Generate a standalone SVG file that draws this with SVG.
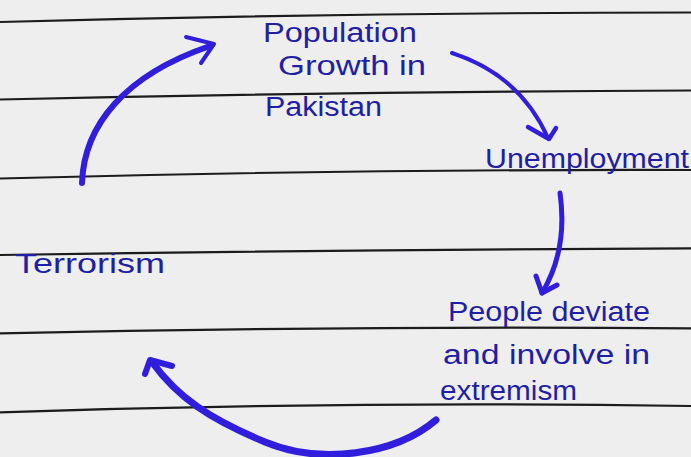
<svg xmlns="http://www.w3.org/2000/svg" width="691" height="457" viewBox="0 0 691 457">
<style>
.rule{fill:none;stroke:#1c1c1c;stroke-width:2.2}
.lbl{font-family:"Liberation Sans","DejaVu Sans",sans-serif;font-size:27px;fill:#1f1fa6}
.arr{fill:none;stroke:#2f1fdc;stroke-linecap:round;stroke-linejoin:round}
</style>
<rect width="691" height="457" fill="#eeeeee"/>
<g id="paper-lines">
<path class="rule" d="M0,22 Q345,12.75 691,12.5"/>
<path class="rule" d="M0,99.5 Q345,91.6 691,90.5"/>
<path class="rule" d="M0,178.5 Q345,169.2 691,170"/>
<path class="rule" d="M0,255 Q345,249.8 691,248.3"/>
<path class="rule" d="M0,333.3 Q345,325.8 691,328.3"/>
<path class="rule" d="M0,412.3 Q345,400.8 691,406"/>
</g>
<g id="node-population">
<text class="lbl" x="263" y="42" textLength="154" lengthAdjust="spacingAndGlyphs">Population</text>
<text class="lbl" x="278" y="75" textLength="148" lengthAdjust="spacingAndGlyphs">Growth in</text>
<text class="lbl" x="265" y="116" textLength="117" lengthAdjust="spacingAndGlyphs">Pakistan</text>
</g>
<g id="node-unemployment">
<text class="lbl" x="485" y="168" textLength="204" lengthAdjust="spacingAndGlyphs">Unemployment</text>
</g>
<g id="node-people">
<text class="lbl" x="448" y="321" textLength="202" lengthAdjust="spacingAndGlyphs">People deviate</text>
<text class="lbl" x="443" y="364" textLength="207" lengthAdjust="spacingAndGlyphs">and involve in</text>
<text class="lbl" x="440" y="400" textLength="137" lengthAdjust="spacingAndGlyphs">extremism</text>
</g>
<g id="node-terrorism">
<text class="lbl" x="15" y="273" textLength="150" lengthAdjust="spacingAndGlyphs">Terrorism</text>
</g>
<g id="connectors">
<path class="arr" stroke-width="6" d="M82,183 C84,125 125,75 210,46"/>
<path class="arr" stroke-width="4" d="M186,37 L214,44 L201,63"/>
<path class="arr" stroke-width="4" d="M452,53 Q520,75 548,138"/>
<path class="arr" stroke-width="4.5" d="M528,127 L549,139 L556,128"/>
<path class="arr" stroke-width="5" d="M560,193 Q568,250 542,293"/>
<path class="arr" stroke-width="5" d="M536,276 L542,293 L557,285"/>
<path class="arr" stroke-width="7" d="M436,420 C395,455 320,465 265,442 S178,398 152,362"/>
<path class="arr" stroke-width="6" d="M145,374 L150,360 L172,366"/>
</g>
</svg>
